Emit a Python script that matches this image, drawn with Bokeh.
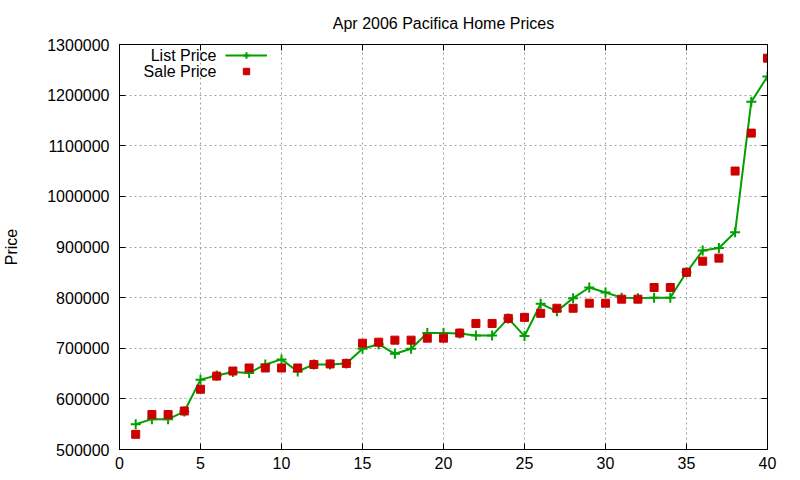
from bokeh.plotting import figure
from bokeh.models import Legend, LegendItem, Label, LinearAxis, FixedTicker, Range1d
from bokeh.embed import file_html
from bokeh.resources import INLINE

house = list(range(1, 41))
list_price = [550000, 560000, 560000, 575000, 638000, 646000, 653000, 651000, 668000, 678000,
              654000, 668000, 668000, 670000, 699000, 708000, 689000, 699000, 730000, 730000,
              729000, 725000, 725000, 759000, 724000, 788000, 773000, 799000, 820000, 810000,
              800000, 799000, 800000, 800000, 850000, 893000, 898000, 929000, 1187000, 1237000]
sale_price = [530000, 569000, 569000, 576000, 619000, 645000, 655000, 661000, 661000, 661000,
              661000, 668000, 669000, 670000, 710000, 712000, 716000, 716000, 720000, 720000,
              730000, 749000, 749000, 759000, 761000, 769000, 779000, 779000, 789000, 789000,
              797000, 797000, 820000, 820000, 850000, 872000, 878000, 1050000, 1125000, 1273000]
x_ticks = [0, 5, 10, 15, 20, 25, 30, 35, 40]
y_ticks = [500000, 600000, 700000, 800000, 900000, 1000000, 1100000, 1200000, 1300000]

FONT = "Liberation Sans"
GREEN = "#00a000"
RED = "#cc0000"

p = figure(width=800, height=480, output_backend="svg", toolbar_location=None,
           x_range=Range1d(0, 40), y_range=Range1d(500000, 1300000),
           min_border_left=119, min_border_right=33, min_border_top=44, min_border_bottom=31,
           title="Apr 2006 Pacifica Home Prices")
p.title.align = "center"
p.title.text_font = FONT
p.title.text_font_size = "16px"
p.title.text_font_style = "normal"
p.title.text_color = "black"
p.title.standoff = 25

p.outline_line_color = "black"
p.outline_line_width = 1
p.background_fill_color = "white"
p.border_fill_color = "white"

for ax in (p.xaxis[0], p.yaxis[0]):
    ax.major_label_text_font = FONT
    ax.major_label_text_font_size = "16px"
    ax.major_label_text_color = "black"
    ax.major_tick_in = 6
    ax.major_tick_out = 0
    ax.minor_tick_in = 0
    ax.minor_tick_out = 0
    ax.axis_line_color = "black"
    ax.major_tick_line_color = "black"
p.xaxis[0].ticker = FixedTicker(ticks=x_ticks)
p.yaxis[0].ticker = FixedTicker(ticks=y_ticks)
p.yaxis[0].formatter.use_scientific = False
p.xaxis[0].major_label_standoff = 7
p.yaxis[0].major_label_standoff = 10
p.yaxis[0].axis_label = "Price"
p.yaxis[0].axis_label_text_font = FONT
p.yaxis[0].axis_label_text_font_size = "16px"
p.yaxis[0].axis_label_text_font_style = "normal"
p.yaxis[0].axis_label_text_color = "black"
p.yaxis[0].axis_label_standoff = 24

# mirrored ticks on top and right
top = LinearAxis(ticker=FixedTicker(ticks=x_ticks), major_label_text_font_size="0px",
                 major_tick_in=6, major_tick_out=0, minor_tick_in=0, minor_tick_out=0)
right = LinearAxis(ticker=FixedTicker(ticks=y_ticks), major_label_text_font_size="0px",
                   major_tick_in=6, major_tick_out=0, minor_tick_in=0, minor_tick_out=0)
top.major_label_overrides = {t: "" for t in x_ticks}
right.major_label_overrides = {t: "" for t in y_ticks}
p.add_layout(top, "above")
p.add_layout(right, "right")

for g in (p.xgrid[0], p.ygrid[0]):
    g.grid_line_color = "#a0a0a0"
    g.grid_line_dash = "2 3"
    g.grid_line_width = 1

ln = p.line(house, list_price, line_color=GREEN, line_width=2)
cr = p.scatter(house, list_price, marker="cross", size=10, line_color=GREEN, line_width=2)
sq = p.scatter(house, sale_price, marker="square", size=8, fill_color=RED, line_color=RED)

legend = Legend(items=[LegendItem(label=" ", renderers=[ln, cr]),
                       LegendItem(label=" ", renderers=[sq])],
                location=(106, 370), orientation="vertical",
                glyph_width=42, glyph_height=16, label_height=16, label_width=0,
                label_standoff=0, spacing=0, padding=0, margin=0,
                border_line_color=None, background_fill_alpha=0,
                label_text_font_size="1px")
p.add_layout(legend, "center")

p.add_layout(Label(x=97, y=394, x_units="screen", y_units="screen", text="List Price",
                   text_align="right", text_baseline="middle", text_font=FONT,
                   text_font_size="16px", text_color="black"))
p.add_layout(Label(x=97, y=378, x_units="screen", y_units="screen", text="Sale Price",
                   text_align="right", text_baseline="middle", text_font=FONT,
                   text_font_size="16px", text_color="black"))

open("out.html", "w").write(file_html(p, INLINE))
